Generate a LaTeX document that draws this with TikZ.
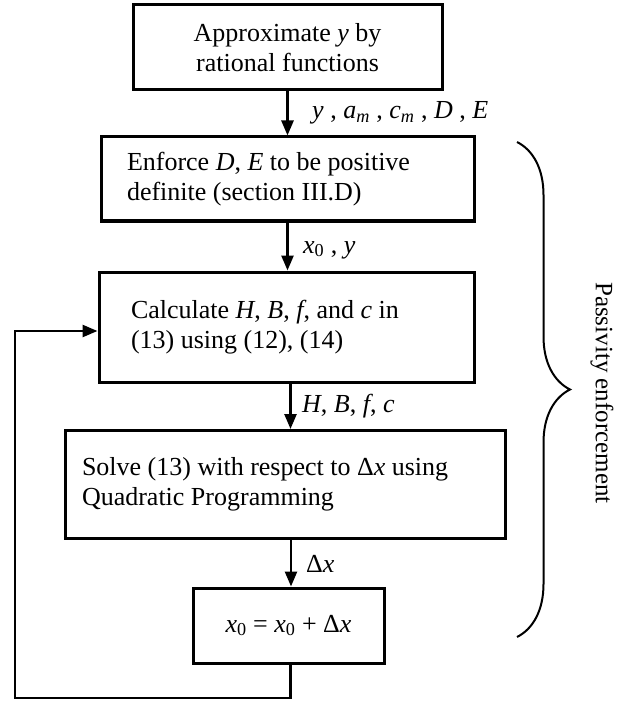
\documentclass[tikz,border=0pt]{standalone}
\usepackage{fontspec}
\setmainfont{Liberation Serif}
\usetikzlibrary{arrows.meta, positioning, decorations.pathreplacing, calc}
\newcommand{\vr}[1]{\textit{#1}}
\newcommand{\idx}[1]{\textsubscript{#1}}

\begin{document}
\begin{tikzpicture}[
  x=1pt, y=-1pt,
  every node/.style={font=\fontsize{26}{30}\selectfont},
  stepbox/.style={rectangle, draw, line width=3pt, align=flush left, inner sep=0pt},
  flow/.style={-{Triangle[length=15pt,width=12pt]}, line width=2.5pt},
  lbl/.style={anchor=west, inner sep=0pt},
]
\useasboundingbox (0,0) rectangle (623,703);

\node[stepbox, align=center, minimum width=309, minimum height=85] (approx) at (287.5,47.5) {Approximate \vr{y} by\\rational functions};
\node[stepbox, inner xsep=26pt, text width=321pt, minimum height=84] (enforce) at (287.5,179) {Enforce \vr{D}, \vr{E} to be positive\\definite (section III.D)};
\node[stepbox, inner xsep=32pt, text width=311pt, minimum height=110] (calc) at (286.5,327) {Calculate \vr{H}, \vr{B}, \vr{f}, and \vr{c} in\\(13) using (12), (14)};
\node[stepbox, inner xsep=17pt, text width=406pt, minimum height=108] (solve) at (285,484.5) {Solve (13) with respect to Δ\vr{x} using\\Quadratic Programming};
\node[stepbox, align=center, minimum width=191, minimum height=75] (update) at (288.5,625.5) {\vr{x}\idx{0} = \vr{x}\idx{0} + Δ\vr{x}};

\draw[flow] (approx.south) -- (approx.south |- enforce.north);
\draw[flow] (enforce.south) -- (enforce.south |- calc.north);
\draw[flow] ($(calc.south)+(4,0)$) -- ($(calc.south |- solve.north)+(4,0)$);
\draw[flow] ($(solve.south)+(6,0)$) -- ($(solve.south |- update.north)+(6,0)$);

\node[lbl] (lblone) at (312,113) {\vr{y} , \vr{a}\idx{\vr{m}} , \vr{c}\idx{\vr{m}} , \vr{D} , \vr{E}};
\node[lbl] (lbltwo) at (303,250) {\vr{x}\idx{0} , \vr{y}};
\node[lbl] (lblthree) at (302,406) {\vr{H}, \vr{B}, \vr{f}, \vr{c}};
\node[lbl] (lblfour) at (306,564) {Δ\vr{x}};

% loop back
\coordinate (loopcorner) at (15,698);
\draw[flow] ($(update.south)+(2,0)$) |- (loopcorner) |- ($(calc.west)+(0,4)$);

% brace
\coordinate (brtop) at (517,142);
\coordinate (brbot) at (517,637);
\draw[line width=2pt, decorate, decoration={brace, amplitude=53pt}] (brtop) -- (brbot);
\node[rotate=-90, font=\fontsize{25}{30}\selectfont] (passive) at (602,393) {Passivity enforcement};
\end{tikzpicture}
\end{document}
